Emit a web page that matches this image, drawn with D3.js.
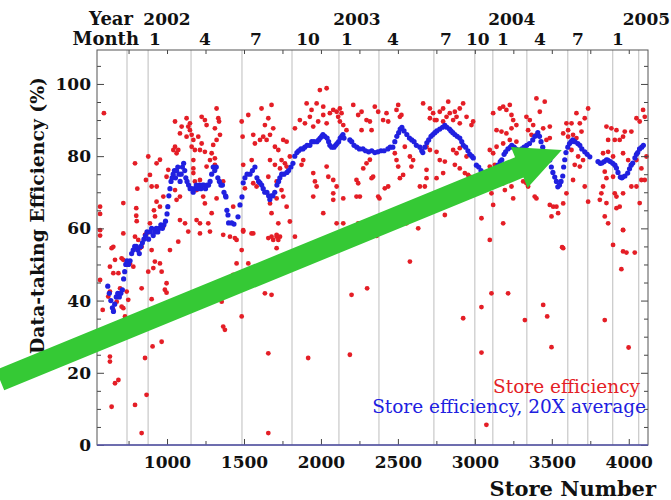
<!DOCTYPE html>
<html>
<head>
<meta charset="utf-8">
<script src="https://cdn.jsdelivr.net/npm/d3@7"></script>
<style>
  body { margin: 0; background: #fff; }
  svg text { font-family: "DejaVu Serif", serif; }
</style>
</head>
<body>
<div id="my_dataviz"></div>
<script>
// store number / efficiency (%) for every store
const storeEff = [
  [590,91.9],[565,66],[565,64],[565,59.5],[565,58],[716,67],[792,78],[807,71],[800,65.6],[800,63.5],[803,62],
  [878,79.9],[863,73.4],[889,74.8],[900,71.6],[933,71.6],[932,78],[954,79],[932,67.4],[915,65],[976,68.8],[954,66],
  [997,74.3],[1008,76.2],[1041,81.7],[1052,82.6],[1062,80.8],[1073,81.7],[1052,89.6],[1084,86.3],[1095,88.2],
  [1127,90.5],[1149,89.1],[1160,85.9],[1138,88.2],[1127,85.4],[1149,87.2],
  [1052,70.6],[1062,67.9],[1084,68.8],[1084,62.3],[1117,61.4],[1138,59.1],
  [1171,84.5],[1160,82.6],[1181,81.7],[1171,78.9],[1171,76.6],[1171,75.3],[1181,73],[1214,73.4],
  [1225,90.9],[1246,90],[1257,88.6],[1203,85.4],[1225,83.5],[1214,81.7],[1246,81.2],
  [1192,70.6],[1235,68.8],[1246,66.9],[1192,62.3],[1214,61.4],
  [1257,77.1],[1279,78.9],[1290,80.8],[1300,83.1],[1322,84.5],
  [1322,93.2],[1333,90.5],[1338,89.6],[1311,87.7],[1344,85.9],[1311,79.4],[1311,77.6],[1365,73],[1322,68.3],[1290,64.2],[1268,61.4],
  [1430,66],[1409,57.7],[1452,56.8],
  [1495,77.6],[1491,85.4],[1485,89.6],[1528,91.4],[1560,85.9],[1571,83.5],[1550,78.9],
  [1506,71.1],[1560,72.5],[1582,71.6],[1560,58.6],[1495,59.5],
  [1614,93.2],[1636,88.6],[1658,90.5],[1679,94.2],[1690,87.7],
  [1604,84.5],[1625,85.4],[1647,84.5],[1669,85.9],[1701,82.6],[1723,81.7],[1755,84.5],[1777,84],
  [1669,78.9],[1701,77.6],[1744,78.9],[1766,78],[1798,79.9],[1734,76.6],[1777,77.1],
  [1658,74.3],[1712,73],[1744,70.6],
  [1669,66.9],[1712,68.3],[1755,68.8],[1777,66],[1679,64.2],[1723,61.4],[1798,61.9],
  [1712,57.7],[1734,57.7],[1690,56.8],
  [1831,87.7],[1863,90],[1896,89.1],[1907,94.6],[1939,92.8],[1972,94.6],[2015,93.7],[1993,98.3],[2037,98.8],
  [1928,90.9],[1950,88.2],[1982,89.6],
  [2015,91.4],[2037,89.1],[2058,91.9],[2080,92.8],[2102,92.3],[2112,90.9],[2123,93.2],[2134,91.9],
  [2123,89.6],[2145,88.6],[2166,87.2],
  [1885,78.9],[1874,77.6],[1950,75.3],[1961,73],[1972,71.6],[1950,68.8],
  [2037,77.1],[2048,74.3],[2080,73.4],[2102,71.6],[2080,69.7],[2080,67.9],[2145,68.3],
  [2015,64.2],[2102,61.4],[2145,61.4],
  [2210,94.2],[2242,91.4],[2231,73.4],[2242,72.5],[2231,68.8],
  [813,56.8],[889,61.4],[922,63.3],[976,60.5],[857,58.2],[716,58.6],[651,54.9],[792,57.7],
  [2264,92.3],[2264,87.2],[2296,90],[2318,89.6],[2329,87.2],[2350,93.7],[2372,92.3],[2404,90],[2426,91.9],[2437,89.6],
  [2275,76.6],[2296,78],[2318,79],[2339,74.3],[2329,73.9],[2253,68.8],[2372,68.8],[2380,68.3],[2415,71.1],[2437,71.6],[2242,61.4],
  [2491,92.8],[2513,90.9],[2523,91.4],[2502,94.2],[2480,80.8],[2491,78.9],[2502,77.1],[2545,82.6],[2578,79.9],[2599,78.9],[2588,77.1],[2513,73.9],[2534,74.8],
  [2664,94.6],[2708,93.2],[2729,91.9],[2708,90.5],[2740,90],[2772,92.3],[2794,93.2],
  [2827,95.1],[2837,91.9],[2870,92.3],[2881,90.9],[2902,93.2],[2924,94.6],
  [2751,90],[2794,89.6],[2816,90.9],[2859,90],[2902,89.1],[2946,90.9],[2978,88.6],[2989,89.6],
  [2686,82.6],[2708,81.7],[2751,81.2],[2772,78.9],[2805,78.5],[2859,81.7],[2881,80.8],[2902,82.2],[2946,79.9],
  [2751,73.9],[2794,75.3],[2870,77.6],[2902,76.6],[2935,75.3],[2956,74.8],[2967,74.3],[2924,69.2],[2967,69.7],
  [2686,73.9],[2675,71.6],[2805,63.7],[2632,60],[2556,61.4],[2643,71.6],[2686,76.2],[2989,69.7],[3043,62.8],[3097,56.8],
  [3119,91.9],[3162,93.2],[3184,93.7],[3205,92.8],[3238,91.4],[3227,94.2],[3249,90],
  [3141,87.2],[3173,86.8],[3205,86.3],[3238,87.7],[3270,88.6],
  [3097,81.7],[3119,80.8],[3141,82.6],[3184,83.5],[3227,84.5],[3270,84],
  [3097,77.1],[3130,77.6],[3151,76.6],[3075,73.4],[3119,72.5],[3162,73.4],[3195,73.9],[3184,72.5],[3195,70.6],
  [3108,69.7],[3119,66.5],[3184,61.4],[3249,68.3],[3238,71.6],[3260,74.3],
  [3335,90.9],[3357,90],[3379,88.6],[3400,96],[3454,95.1],[3422,92.3],
  [3346,87.2],[3368,85.9],[3400,85.9],[3444,87.7],[3487,88.2],[3465,84.5],[3487,85],
  [3357,79.9],[3379,79],[3314,73],[3335,72.5],[3346,71.6],[3389,68.8],[3400,68.3],
  [3487,66.5],[3509,66],[3530,66],[3541,64.2],[3498,63.3],[3574,54.5],
  [3574,86.3],[3595,89.1],[3606,87.2],[3628,89.1],[3660,91.9],[3682,89.1],[3714,90.5],[3736,93.2],
  [3606,85.4],[3638,85.9],[3660,85],[3693,86.8],[3628,81.7],[3671,79.9],[3703,78.9],[3649,77.6],[3682,77.1],
  [3638,73.4],[3714,71.6],[3595,69.7],[3574,66.9],[3736,67.4],
  [3855,88.2],[3887,87.7],[3920,87.2],[3909,84.5],[3974,86.8],[4017,86.8],[4050,90.5],[4071,89.6],[4093,92.8],[4104,90.9],
  [3866,84.5],[3941,84.5],[3963,85.4],[3833,80.8],[3866,81.2],[3898,79.9],[3963,80.8],
  [3996,78.9],[4017,77.6],[4050,78.9],[4082,76.6],[3844,75.7],[3855,73.9],[3898,74.3],
  [3833,71.6],[3822,69.7],[3812,67.9],[3855,67],[3909,69.7],[3920,68.8],[3963,69.7],
  [4017,71.6],[4050,71.6],[4082,73.4],[3844,63.3],[3866,61.4],[3920,65.6],[3941,66],[3963,59.5],[4071,67],[4115,79.9],[4104,73.4],
  [565,45.7],[582,37.4],[629,49.4],[640,54.5],[662,51.3],[651,47.6],[629,42.5],[618,41.1],[629,30.9],[618,28.6],[629,24.5],[629,23.1],[640,10.6],[662,17.1],[684,18],
  [651,37.4],[673,39.7],[695,43.4],[684,47.6],[705,38.3],[716,37.9],[727,35.6],[716,33.7],[727,32.3],[738,42.5],[748,40.2],[705,51.7],[716,51.3],
  [759,50.3],[781,49.4],[792,54.5],[824,54.5],[835,54.9],[835,43.4],[857,24.1],[792,11.1],[835,3.3],
  [867,58.6],[900,54],[878,48],[867,13.9],[900,37.4],[900,40.4],[906,27.3],[921,50.8],[911,49],[965,48],[954,50.3],[997,44.8],[986,43],[997,42.2],[965,28.6],
  [1019,54],[1073,56.3],[1214,58.6],[1279,59.1],[1365,58.2],[1441,57.3],[1495,59.1],[1549,58.6],
  [1355,39.7],[1365,32.8],[1376,31.9],[1235,43],[1430,47.1],[1485,54],[1452,50.3],[1528,50.3],[1485,35.6],
  [1658,25.4],[1636,42],[1679,41.6],[1658,3.3],[1658,57.3],[1679,57.7],[1712,58.2],[1723,56.8],[1712,54.5],[1831,57.7],[1917,24.1],[2188,25],[2199,41.6],
  [2361,57.9],[2300,43.4],[2578,50.8],[2924,35.1],[3043,38.2],[3043,25.6],[3075,5.6],[3108,42],[3216,42],[3325,34.6],
  [3444,38.8],[3470,35.6],[3498,27.1],[3567,54.8],[3844,34.6],[3898,55.4],[3952,48.7],[3963,53.6],[3985,53.3],[4039,53.3],[3999,27],[3963,59.6]
];

// 20X running average
const avg20 = [
  [615,44],[625,42],[635,40],[645,38],[652,37],[660,39],[670,41],[680,42],[690,41],[700,42],[710,43],[718,46],[725,48],[732,50],[740,51],
  [750,50],[760,51],[770,53],[780,54],[790,55],[800,55],[810,54],[820,53],[830,55],[840,56],[850,57],[860,58],[870,59],[880,57],[890,59],
  [900,60],[910,58],[920,59],[930,60],[940,59],[950,60],[960,61],[970,60],[980,61],[990,62],[1000,64],
  [1005,66],[1012,69],[1019,71],[1026,73],[1033,74],[1040,75],[1048,76],[1055,74],[1062,76],[1070,77],[1078,75],[1085,73],[1092,75],[1100,77],
  [1108,78],[1115,76],[1122,74],[1130,73],[1140,72],[1150,71],[1160,71],[1170,70],[1180,71],[1190,72],[1200,71],[1210,72],[1220,71],[1230,72],
  [1240,72],[1250,71],[1260,72],[1270,72],[1280,73],[1290,75],[1300,77],[1310,76],[1320,77],[1330,74],[1340,73],[1350,72],[1360,72],[1370,70],[1380,69],
  [1383,68.7],[1389,65],[1396,63.7],[1400,61.5],[1420,61.5],[1435,61.2],[1461,63.2],[1474,66.5],[1487,68.7],[1495,72.6],
  [1506,74],[1520,75],[1539,75],[1555,76],[1571,77],[1584,74],[1595,73],[1604,72.6],[1615,72],[1625,71],[1635,70],[1649,70],[1660,69],[1668,68],
  [1678,69],[1688,69],[1700,70],[1714,72],[1725,73],[1733,74],[1745,75],[1760,75],[1779,75.5],[1790,76],[1805,77],[1818,78],[1830,80],[1844,81],
  [1855,81.5],[1870,82],[1883,82],[1895,82.5],[1910,83],[1928,83],[1940,84],[1955,84],[1974,84],[1985,84.5],[1995,85],[2005,85.5],[2013,86],
  [2025,85.5],[2040,85],[2050,84],[2058,83],[2070,82.5],[2085,82.5],[2095,83],[2104,83.5],[2115,84],[2125,85],[2135,85.5],[2143,86],[2150,85],
  [2188,84.5],[2200,84],[2215,83],[2233,82.5],[2250,82],[2273,82],[2290,81.5],[2310,81.2],[2330,81.5],[2350,81],[2370,81.2],[2390,81.5],[2410,81.5],
  [2435,82],[2450,82.5],[2467,82.5],[2480,84],[2493,85.5],[2505,86.5],[2515,87.5],[2526,88],[2540,87],[2558,86],[2575,85],[2590,84.5],[2605,84],
  [2620,83],[2643,82.5],[2655,81.5],[2662,81],[2675,82.5],[2688,83.7],[2700,84.5],[2715,85.5],[2727,86],[2740,86.5],[2753,87],[2772,87.5],
  [2790,88],[2805,88.5],[2818,88],[2835,87.5],[2845,87],[2857,86.5],[2870,86],[2885,85.5],[2902,85],[2915,84],[2925,83],[2940,82.5],[2955,81.5],
  [2967,80.5],[2980,80],[2990,79.5],
  [3010,77.5],[3025,77],[3040,76],[3052,75.3],[3065,75],[3078,75.5],[3090,75.6],[3105,76],[3120,76.3],[3135,76.7],[3150,77.5],[3165,78.5],
  [3175,79],[3190,80.5],[3200,81.2],[3215,82],[3230,82.5],[3240,83],[3255,82.5],[3265,82],[3280,81.7],[3290,81.5],[3305,82],[3320,82.5],
  [3337,83],[3355,83.5],[3376,84.5],[3390,85.5],[3409,86.5],[3420,85.5],[3430,84],[3441,82.5],[3455,81],[3467,80],[3477,79.5],[3487,78.9],
  [3497,77],[3507,75.5],[3519,74.2],[3530,73],[3539,71.5],[3550,72],[3560,73],[3571,74.5],[3577,77],[3584,79],[3592,81],[3604,82.5],
  [3615,83.5],[3625,84],[3636,84.5],[3650,84],[3669,83.5],[3682,83],[3695,82],[3714,81.2],[3730,80.5],[3747,79.8],
  [3800,78.5],[3815,78],[3825,78.1],[3840,78.5],[3855,79],[3864,78.9],[3880,78.5],[3896,78],[3910,77.5],[3920,76.7],[3930,75.5],[3945,74.2],
  [3955,74],[3961,74.2],[3975,74.5],[3993,75.3],[4005,76.5],[4015,77.5],[4026,78.1],[4040,79.5],[4050,80.5],[4058,81],[4070,82],[4084,82.5],[4095,83]
];

// month boundaries (store number) and the calendar labels on top
const monthLines = [740, 877, 1156, 1487, 1812, 2117, 2377, 2734, 3000, 3117, 3338, 3604, 3734, 3896, 4065];
const monthStores = [922, 1247, 1578, 1916, 2169, 2468, 2812, 3019, 3182, 3422, 3669, 3929];
const monthLabels = ["1", "4", "7", "10", "1", "4", "7", "10", "1", "4", "7", "1"];
const yearStores = [1000, 2234, 3240, 4115];
const yearLabels = ["2002", "2003", "2004", "2005"];

const xTicks = [1000, 1500, 2000, 2500, 3000, 3500, 4000];
const xMinorTicks = [750, 1250, 1750, 2250, 2750, 3250, 3750];
const yTicks = [0, 20, 40, 60, 80, 100];
const yMinorTicks = [5, 10, 15, 25, 30, 35, 45, 50, 55, 65, 70, 75, 85, 90, 95, 105];

// arrow annotation, in store / efficiency units
const arrowFrom = [-85, 18];
const arrowTo = [3565, 81.7];

// set the dimensions and margins of the graph
const margin = { top: 50, right: 23, bottom: 55, left: 97 },
  width = 671 - margin.left - margin.right,
  height = 500 - margin.top - margin.bottom;

const svg0 = d3.select("#my_dataviz")
  .append("svg")
  .attr("width", width + margin.left + margin.right)
  .attr("height", height + margin.top + margin.bottom);

const svg = svg0.append("g")
  .attr("transform", `translate(${margin.left}, ${margin.top})`);

const x = d3.scaleLinear().domain([545, 4125]).range([0, width]);
const y = d3.scaleLinear().domain([0, 109.4]).range([height, 0]);

const serif = "'DejaVu Serif', serif";

// month grid lines
svg.selectAll(".month")
  .data(monthLines)
  .join("line")
  .attr("x1", d => x(d)).attr("x2", d => x(d))
  .attr("y1", 0).attr("y2", height)
  .attr("stroke", "#bdbdbd")
  .attr("stroke-width", 1);

// store efficiency
svg.selectAll(".red")
  .data(storeEff)
  .join("circle")
  .attr("cx", d => x(d[0]))
  .attr("cy", d => y(d[1]))
  .attr("r", 2.4)
  .attr("fill", "#e41e26");

// 20X average
svg.selectAll(".blue")
  .data(avg20)
  .join("circle")
  .attr("cx", d => x(d[0]))
  .attr("cy", d => y(d[1]))
  .attr("r", 2.6)
  .attr("fill", "#2020e0");

// axes, all ticks pointing inward
const styleAxis = function (g) {
  g.select(".domain").remove();
  g.selectAll(".tick line").attr("stroke", "#444");
  g.selectAll("text")
    .attr("fill", "#111")
    .style("font-family", serif)
    .style("font-weight", "bold")
    .style("font-size", "17px");
};

svg.append("g")
  .attr("transform", `translate(0, ${height})`)
  .call(d3.axisBottom(x).tickValues(xTicks).tickSize(-6).tickPadding(11).tickFormat(d3.format("d")))
  .call(styleAxis);
svg.append("g")
  .attr("transform", `translate(0, ${height})`)
  .call(d3.axisBottom(x).tickValues(xMinorTicks).tickSize(-4).tickFormat(""))
  .call(styleAxis);
svg.append("g")
  .call(d3.axisTop(x).tickValues(xTicks.concat(xMinorTicks)).tickSize(-4).tickFormat(""))
  .call(styleAxis);

svg.append("g")
  .call(d3.axisLeft(y).tickValues(yTicks).tickSize(-7).tickPadding(6))
  .call(styleAxis);
svg.append("g")
  .call(d3.axisLeft(y).tickValues(yMinorTicks).tickSize(-4).tickFormat(""))
  .call(styleAxis);
svg.append("g")
  .attr("transform", `translate(${width}, 0)`)
  .call(d3.axisRight(y).tickValues(yTicks).tickSize(-7).tickFormat(""))
  .call(styleAxis);
svg.append("g")
  .attr("transform", `translate(${width}, 0)`)
  .call(d3.axisRight(y).tickValues(yMinorTicks).tickSize(-4).tickFormat(""))
  .call(styleAxis);

// frame
svg.append("rect")
  .attr("width", width).attr("height", height)
  .attr("fill", "none")
  .attr("stroke", "#555");
svg.append("line")
  .attr("x1", 0).attr("x2", width)
  .attr("y1", y(0)).attr("y2", y(0))
  .attr("stroke", "#5a5ab0")
  .attr("stroke-width", 1.5);

// Year / Month header
const head = svg.append("g")
  .style("font-family", serif)
  .style("font-weight", "bold")
  .style("font-size", "17px")
  .attr("fill", "#111");
head.append("text").attr("x", 36).attr("y", -25).attr("text-anchor", "end").style("font-size", "18px").text("Year");
head.append("text").attr("x", 42).attr("y", -5).attr("text-anchor", "end").style("font-size", "18px").text("Month");
head.selectAll(".yr")
  .data(yearLabels)
  .join("text")
  .attr("x", (d, i) => x(yearStores[i]))
  .attr("y", -25)
  .attr("text-anchor", "middle")
  .text(d => d);
head.selectAll(".mo")
  .data(monthLabels)
  .join("text")
  .attr("x", (d, i) => x(monthStores[i]))
  .attr("y", -5)
  .attr("text-anchor", "middle")
  .text(d => d);

// axis titles
svg.append("text")
  .attr("transform", `translate(-53, ${height / 2 - 32}) rotate(-90)`)
  .attr("text-anchor", "middle")
  .style("font-family", serif)
  .style("font-weight", "bold")
  .style("font-size", "18.8px")
  .attr("fill", "#111")
  .text("Data-taking Efficiency (%)");

svg.append("text")
  .attr("x", width + 8)
  .attr("y", height + 51)
  .attr("text-anchor", "end")
  .style("font-family", serif)
  .style("font-weight", "bold")
  .style("font-size", "21px")
  .attr("fill", "#111")
  .text("Store Number");

// legend
svg.append("text")
  .attr("x", width - 8).attr("y", height - 52)
  .attr("text-anchor", "end")
  .style("font-family", serif)
  .style("font-size", "18.5px")
  .attr("fill", "#e41e26")
  .text("Store efficiency");
svg.append("text")
  .attr("x", width - 2).attr("y", height - 32)
  .attr("text-anchor", "end")
  .style("font-family", serif)
  .style("font-size", "18.5px")
  .attr("fill", "#2020e0")
  .text("Store efficiency, 20X average");

// green arrow
const p0 = [x(arrowFrom[0]), y(arrowFrom[1])],
  p1 = [x(arrowTo[0]), y(arrowTo[1])];
const len = Math.hypot(p1[0] - p0[0], p1[1] - p0[1]),
  ang = Math.atan2(p1[1] - p0[1], p1[0] - p0[0]) * 180 / Math.PI;
const headLen = 46, headW = 22, shaftW = 11;
svg.append("path")
  .attr("transform", `translate(${p0[0]}, ${p0[1]}) rotate(${ang})`)
  .attr("d", `M0,${-shaftW}L${len - headLen},${-shaftW}L${len - headLen},${-headW}L${len},0L${len - headLen},${headW}L${len - headLen},${shaftW}L0,${shaftW}Z`)
  .attr("fill", "#35c935");
</script>
</body>
</html>
